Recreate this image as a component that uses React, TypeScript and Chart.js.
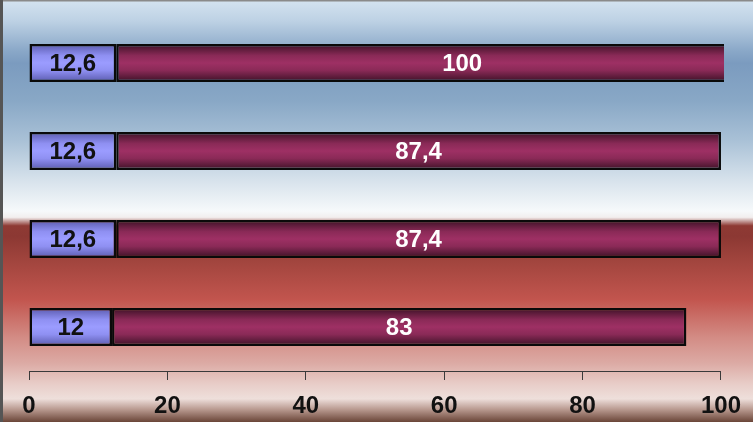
import React, { useEffect, useRef } from "react";
import { Chart, registerables } from "chart.js";

Chart.register(...registerables);

const categories = ["A", "B", "C", "D"];
const seriesSmall = [12.6, 12.6, 12.6, 12];
const seriesLarge = [100, 87.4, 87.4, 83];
const xTicks = [0, 20, 40, 60, 80, 100];

const fmt = (v: number) => String(v).replace(".", ",");

const bgPlugin = {
  id: "bg",
  beforeDraw(chart: any) {
    const { ctx, width, height } = chart;
    const g = ctx.createLinearGradient(0, 0, 0, height);
    const stops: [number, string][] = [
      [0, "#d4e3f0"],
      [0.05, "#bdd1e4"],
      [0.12, "#8aa8c8"],
      [0.15, "#7b9bbf"],
      [0.24, "#89a8c6"],
      [0.33, "#a8c0d6"],
      [0.43, "#d8e3ec"],
      [0.5, "#f6f9fb"],
      [0.515, "#f2eeee"],
      [0.535, "#8e3a34"],
      [0.56, "#8c3833"],
      [0.62, "#a2453e"],
      [0.71, "#c2554e"],
      [0.8, "#d38c85"],
      [0.86, "#dcaaa4"],
      [0.91, "#e8cdc8"],
      [0.945, "#eedfdb"],
      [0.97, "#b99a90"],
      [1, "#6a4538"],
    ];
    stops.forEach(([o, c]) => g.addColorStop(o, c));
    ctx.save();
    ctx.fillStyle = g;
    ctx.fillRect(0, 0, width, height);
    ctx.fillStyle = "#8a8a8a";
    ctx.fillRect(0, 0, width, 1.5);
    ctx.fillStyle = "#555555";
    ctx.fillRect(0, 0, 3, height);
    ctx.restore();
  },
};

const labelPlugin = {
  id: "barLabels",
  afterDatasetsDraw(chart: any) {
    const { ctx } = chart;
    ctx.save();
    ctx.font = "bold 24px 'Liberation Sans', Arial, sans-serif";
    ctx.textAlign = "center";
    ctx.textBaseline = "middle";
    chart.data.datasets.forEach((ds: any, di: number) => {
      const meta = chart.getDatasetMeta(di);
      meta.data.forEach((el: any, i: number) => {
        const cx = (el.x + el.base) / 2;
        ctx.fillStyle = di === 0 ? "#111111" : "#ffffff";
        ctx.fillText(fmt(ds.data[i]), cx, el.y + 1);
      });
    });
    ctx.restore();
  },
};

function barGradient(ctx: any, light: string, dark: string, mid: string) {
  const chart = ctx.chart;
  const y = chart.scales?.y;
  if (!y || !chart.chartArea) return light;
  const cy = y.getPixelForValue(ctx.dataIndex);
  const h = 18.5;
  const g = chart.ctx.createLinearGradient(0, cy - h, 0, cy + h);
  g.addColorStop(0, dark);
  g.addColorStop(0.3, mid);
  g.addColorStop(0.5, light);
  g.addColorStop(0.7, mid);
  g.addColorStop(1, dark);
  return g;
}

export default function App() {
  const ref = useRef<HTMLCanvasElement>(null);
  useEffect(() => {
    document.body.style.margin = "0";
    const chart = new Chart(ref.current!, {
      type: "bar",
      data: {
        labels: categories,
        datasets: [
          {
            data: seriesSmall,
            backgroundColor: (c: any) => barGradient(c, "#9b9cff", "#5c5cb0", "#8f90f2"),
            borderColor: "#0a0a0a",
            borderWidth: 2.5,
            borderSkipped: false,
            clip: { left: 5, top: 5, right: 3, bottom: 5 } as any,
          },
          {
            data: seriesLarge,
            backgroundColor: (c: any) => barGradient(c, "#9e3064", "#3e1227", "#8a2a57"),
            borderColor: "#0a0a0a",
            borderWidth: 2.5,
            borderSkipped: false,
            clip: { left: 5, top: 5, right: 3, bottom: 5 } as any,
          },
        ],
      },
      options: {
        indexAxis: "y",
        animation: false,
        responsive: false,
        maintainAspectRatio: false,
        layout: { padding: { left: 29, right: 32, top: 19, bottom: 0 } },
        datasets: { bar: { categoryPercentage: 1, barPercentage: 0.43 } },
        plugins: { legend: { display: false }, tooltip: { enabled: false } },
        scales: {
          y: { display: false, stacked: true },
          x: {
            stacked: true,
            min: 0,
            max: 100,
            afterBuildTicks: (s: any) => {
              s.ticks = xTicks.map((v) => ({ value: v }));
            },
            afterFit: (s: any) => {
              s.height = 51;
            },
            grid: { drawOnChartArea: false, drawTicks: true, tickLength: 9, color: "#3a3a3a" },
            border: { display: true, color: "#3a3a3a", width: 1 },
            ticks: {
              color: "#111111",
              padding: 12,
              maxRotation: 0,
              font: { family: "'Liberation Sans', Arial, sans-serif", size: 24, weight: "bold" },
            },
          },
        },
      },
      plugins: [bgPlugin, labelPlugin],
    });
    return () => chart.destroy();
  }, []);
  return <canvas ref={ref} width={753} height={422} style={{ display: "block" }} />;
}
